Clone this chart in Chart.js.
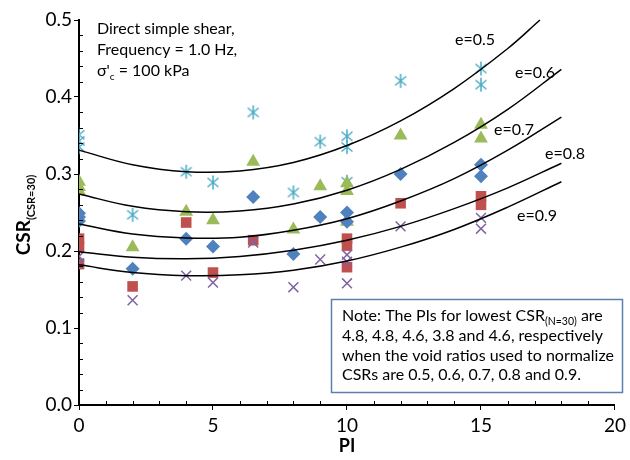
<!DOCTYPE html>
<html>
<head>
<meta charset="utf-8">
<script src="https://cdn.jsdelivr.net/npm/chart.js@4.4.1/dist/chart.umd.min.js"></script>
<style>
  html, body { margin: 0; padding: 0; background: #fff; }
  #wrap { width: 630px; height: 460px; position: relative; }
</style>
</head>
<body>
<div id="wrap"><canvas id="csrChart"></canvas></div>
<script>
// measured points (PI, CSR) per normalising void ratio
const PI_E05 = [0, 0, 0, 2, 4, 5, 6.5, 8, 9, 10, 10, 10, 12, 15, 15];
const CSR_E05 = [0.351, 0.343, 0.335, 0.247, 0.303, 0.289, 0.380, 0.276, 0.342, 0.349, 0.335, 0.290, 0.421, 0.437, 0.416];

const PI_E06 = [0, 0, 0, 2, 4, 5, 6.5, 8, 9, 10, 10, 10, 12, 15, 15];
const CSR_E06 = [0.290, 0.283, 0.278, 0.205, 0.251, 0.240, 0.316, 0.228, 0.284, 0.288, 0.278, 0.238, 0.350, 0.364, 0.346];

const PI_E07 = [0, 0, 0, 2, 4, 5, 6.5, 8, 9, 10, 10, 12, 15, 15];
const CSR_E07 = [0.249, 0.244, 0.239, 0.177, 0.216, 0.206, 0.270, 0.196, 0.244, 0.250, 0.238, 0.300, 0.312, 0.297];

const PI_E08 = [0, 0, 0, 2, 4, 5, 6.5, 10, 10, 10, 12, 15, 15];
const CSR_E08 = [0.216, 0.205, 0.183, 0.154, 0.237, 0.172, 0.214, 0.216, 0.207, 0.179, 0.262, 0.271, 0.260];

const PI_E09 = [0, 0, 2, 4, 5, 6.5, 8, 9, 10, 10, 10, 12, 15, 15];
const CSR_E09 = [0.193, 0.184, 0.136, 0.168, 0.159, 0.211, 0.153, 0.189, 0.195, 0.186, 0.158, 0.232, 0.243, 0.229];

// trend curves
const FIT_X = [0, 2, 4, 6, 8, 10, 12, 14, 16, 18];
const FIT_X_05 = [0, 2, 4, 6, 8, 10, 12, 14, 16, 17.2];
const FIT_E05 = [0.331, 0.312, 0.303, 0.304, 0.315, 0.337, 0.369, 0.411, 0.463, 0.500];
const FIT_E06 = [0.274, 0.258, 0.251, 0.252, 0.261, 0.279, 0.306, 0.341, 0.384, 0.436];
const FIT_E07 = [0.235, 0.222, 0.217, 0.218, 0.227, 0.242, 0.265, 0.294, 0.331, 0.374];
const FIT_E08 = [0.199, 0.192, 0.190, 0.193, 0.201, 0.214, 0.232, 0.255, 0.282, 0.314];
const FIT_E09 = [0.182, 0.172, 0.168, 0.169, 0.175, 0.187, 0.205, 0.228, 0.257, 0.290];

const CURVE_LABELS = ['e=0.5', 'e=0.6', 'e=0.7', 'e=0.8', 'e=0.9'];

const FONT = 'Lato, "Open Sans", sans-serif';

function pairs(xs, ys) {
    return xs.map((x, i) => ({ x: x, y: ys[i] }));
}

// excel-like asterisk marker (X plus vertical bar)
function makeAsterisk(color) {
    const c = document.createElement('canvas');
    c.width = 16; c.height = 16;
    const g = c.getContext('2d');
    g.strokeStyle = color;
    g.lineWidth = 1.5;
    g.beginPath();
    g.moveTo(8, 1); g.lineTo(8, 15);
    g.moveTo(2.5, 3.5); g.lineTo(13.5, 12.5);
    g.moveTo(13.5, 3.5); g.lineTo(2.5, 12.5);
    g.stroke();
    return c;
}

function curve(xs, ys) {
    return {
        type: 'line',
        data: pairs(xs, ys),
        borderColor: '#000',
        borderWidth: 1.5,
        pointRadius: 0,
        tension: 0.4,
        fill: false,
        clip: false,
        order: 0
    };
}

// minor ticks, text boxes and axis titles
const decorPlugin = {
    id: 'decor',
    afterDraw(chart) {
        const ctx = chart.ctx;
        const xs = chart.scales.x, ys = chart.scales.y;
        const area = chart.chartArea;
        ctx.save();
        ctx.strokeStyle = '#000';
        ctx.lineWidth = 1;
        for (let i = 1; i < 20; i++) {
            if (i % 5 === 0) continue;
            const px = Math.round(xs.getPixelForValue(i)) + 0.5;
            ctx.beginPath();
            ctx.moveTo(px, area.bottom);
            ctx.lineTo(px, area.bottom - 4);
            ctx.stroke();
        }
        for (let i = 1; i < 25; i++) {
            if (i % 5 === 0) continue;
            const py = Math.round(ys.getPixelForValue(i * 0.02)) + 0.5;
            ctx.beginPath();
            ctx.moveTo(area.left, py);
            ctx.lineTo(area.left + 4, py);
            ctx.stroke();
        }

        ctx.fillStyle = '#000';
        ctx.textBaseline = 'alphabetic';
        ctx.textAlign = 'left';

        // test conditions
        ctx.font = '16px ' + FONT;
        ctx.fillText('Direct simple shear,', 97, 34);
        ctx.fillText('Frequency = 1.0 Hz,', 97, 55);
        let w = ctx.measureText("σ'").width;
        ctx.fillText("σ'", 97, 76);
        ctx.font = '10px ' + FONT;
        ctx.fillText('c', 97 + w, 80);
        const wc = ctx.measureText('c').width;
        ctx.font = '16px ' + FONT;
        ctx.fillText(' = 100 kPa', 97 + w + wc, 76);

        // curve labels
        const labelPos = [[455, 45], [515, 78], [494, 135], [545, 159], [517, 221]];
        ctx.font = '16px ' + FONT;
        CURVE_LABELS.forEach((t, i) => ctx.fillText(t, labelPos[i][0], labelPos[i][1]));

        // note box
        ctx.fillStyle = '#fff';
        ctx.fillRect(331, 299, 291, 93);
        ctx.strokeStyle = '#5b7fae';
        ctx.lineWidth = 1.5;
        ctx.strokeRect(331.5, 299.5, 291, 93);
        ctx.fillStyle = '#000';
        ctx.font = '16px ' + FONT;
        let x0 = 342;
        const t1 = 'Note: The PIs for lowest CSR';
        ctx.fillText(t1, x0, 321);
        x0 += ctx.measureText(t1).width;
        ctx.font = '10.5px ' + FONT;
        ctx.fillText('(N=30)', x0, 325);
        x0 += ctx.measureText('(N=30)').width;
        ctx.font = '16px ' + FONT;
        ctx.fillText(' are', x0, 321);
        ctx.fillText('4.8, 4.8, 4.6, 3.8 and 4.6, respectively', 342, 341);
        ctx.fillText('when the void ratios used to normalize', 342, 361);
        ctx.fillText('CSRs are 0.5, 0.6, 0.7, 0.8 and 0.9.', 342, 380);

        // axis titles
        ctx.font = 'bold 18px ' + FONT;
        ctx.textAlign = 'center';
        ctx.fillText('PI', (area.left + area.right) / 2, 452);

        ctx.translate(30, 215);
        ctx.rotate(-Math.PI / 2);
        ctx.textAlign = 'left';
        ctx.font = 'bold 19px ' + FONT;
        const wm = ctx.measureText('CSR').width;
        ctx.font = 'bold 11px ' + FONT;
        const ws = ctx.measureText('(CSR=30)').width;
        const start = -(wm + ws) / 2;
        ctx.font = 'bold 19px ' + FONT;
        ctx.fillText('CSR', start, 0);
        ctx.font = 'bold 11px ' + FONT;
        ctx.fillText('(CSR=30)', start + wm, 5);
        ctx.restore();
    }
};

const axisFont = { family: FONT, size: 19 };

new Chart(document.getElementById('csrChart'), {
    type: 'scatter',
    data: {
        datasets: [
            {
                label: 'e=0.5',
                data: pairs(PI_E05, CSR_E05),
                pointStyle: makeAsterisk('#4bacc6'),
                order: 5
            },
            {
                label: 'e=0.6',
                data: pairs(PI_E06, CSR_E06),
                pointStyle: 'triangle',
                pointRadius: 8,
                backgroundColor: '#9bbb59',
                borderColor: '#9bbb59',
                borderWidth: 0,
                order: 4
            },
            {
                label: 'e=0.7',
                data: pairs(PI_E07, CSR_E07),
                pointStyle: 'rectRot',
                pointRadius: 7,
                backgroundColor: '#4f81bd',
                borderColor: '#4f81bd',
                borderWidth: 0,
                order: 3
            },
            {
                label: 'e=0.8',
                data: pairs(PI_E08, CSR_E08),
                pointStyle: 'rect',
                pointRadius: 7.5,
                backgroundColor: '#c0504d',
                borderColor: '#c0504d',
                borderWidth: 0,
                order: 2
            },
            {
                label: 'e=0.9',
                data: pairs(PI_E09, CSR_E09),
                pointStyle: 'crossRot',
                pointRadius: 7,
                borderColor: '#8064a2',
                borderWidth: 1.5,
                order: 1
            },
            curve(FIT_X_05, FIT_E05),
            curve(FIT_X, FIT_E06),
            curve(FIT_X, FIT_E07),
            curve(FIT_X, FIT_E08),
            curve(FIT_X, FIT_E09)
        ]
    },
    options: {
        responsive: true,
        maintainAspectRatio: false,
        animation: false,
        layout: { padding: { top: 20, right: 12, left: 0, bottom: 0 } },
        plugins: {
            legend: { display: false },
            tooltip: { enabled: false }
        },
        scales: {
            x: {
                type: 'linear',
                min: 0,
                max: 20,
                afterFit: s => { s.height = 55; },
                ticks: { stepSize: 5, color: '#000', font: axisFont, padding: 4, maxRotation: 0 },
                grid: { drawOnChartArea: false, drawTicks: true, tickLength: 5, color: '#000' },
                border: { color: '#000', width: 2 }
            },
            y: {
                type: 'linear',
                min: 0,
                max: 0.5,
                afterFit: s => { s.width = 79; },
                ticks: { stepSize: 0.1, color: '#000', font: axisFont, padding: 2, callback: v => v.toFixed(1) },
                grid: { drawOnChartArea: false, drawTicks: true, tickLength: 5, color: '#000' },
                border: { color: '#000', width: 2 }
            }
        }
    },
    plugins: [decorPlugin]
});
</script>
</body>
</html>
